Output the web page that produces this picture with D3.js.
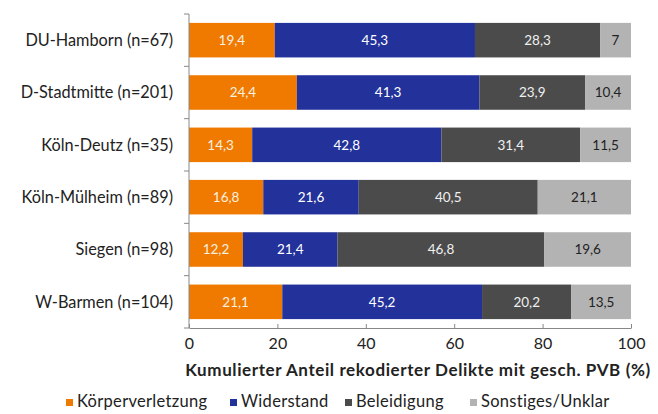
<!DOCTYPE html>
<html>
<head>
<meta charset="utf-8">
<script src="https://cdn.jsdelivr.net/npm/d3@7"></script>
<style>
  body { margin: 0; background: #fff; }
  svg { font-family: Lato, "Open Sans", sans-serif; }
</style>
</head>
<body>
<div id="chart"></div>
<script>
const categories = ["DU-Hamborn (n=67)", "D-Stadtmitte (n=201)", "Köln-Deutz (n=35)", "Köln-Mülheim (n=89)", "Siegen (n=98)", "W-Barmen (n=104)"];
const series = ["Körperverletzung", "Widerstand", "Beleidigung", "Sonstiges/Unklar"];
const koerperverletzung = [19.4, 24.4, 14.3, 16.8, 12.2, 21.1];
const widerstand = [45.3, 41.3, 42.8, 21.6, 21.4, 45.2];
const beleidigung = [28.3, 23.9, 31.4, 40.5, 46.8, 20.2];
const sonstiges = [7, 10.4, 11.5, 21.1, 19.6, 13.5];
const xTicks = [0, 20, 40, 60, 80, 100];

const colors = ["#f07a00", "#23329b", "#4b4b4b", "#b3b3b3"];
const textColors = ["#f5f0e0", "#ffffff", "#f0f0f0", "#222222"];

let w = 658;
let h = 414;
let marginLeft = 189;
let marginRight = 27;
let marginTop = 14;
let axisY = 328;

let dataset = categories.map(function (c, i) {
  return {
    name: c,
    "Körperverletzung": koerperverletzung[i],
    "Widerstand": widerstand[i],
    "Beleidigung": beleidigung[i],
    "Sonstiges/Unklar": sonstiges[i]
  };
});

let stacked = d3.stack().keys(series)(dataset);

let x = d3.scaleLinear().domain([0, 100]).range([marginLeft, w - marginRight]);
let y = d3.scaleBand().domain(categories).range([marginTop, axisY]).paddingInner(0.34).paddingOuter(0.17);

let svg = d3.select("#chart").append("svg").attr("width", w).attr("height", h);

// bars
let layer = svg.selectAll("g.layer")
  .data(stacked)
  .enter()
  .append("g")
  .attr("class", "layer")
  .attr("fill", function (d, i) { return colors[i]; });

layer.selectAll("rect")
  .data(function (d) { return d; })
  .enter()
  .append("rect")
  .attr("x", function (d) { return x(d[0]); })
  .attr("y", function (d) { return y(d.data.name); })
  .attr("width", function (d) { return x(d[1]) - x(d[0]); })
  .attr("height", y.bandwidth());

// value labels
stacked.forEach(function (s, si) {
  svg.append("g")
    .selectAll("text")
    .data(s)
    .enter()
    .append("text")
    .attr("x", function (d) { return (x(d[0]) + x(d[1])) / 2; })
    .attr("y", function (d) { return y(d.data.name) + y.bandwidth() / 2; })
    .attr("dy", "0.35em")
    .attr("text-anchor", "middle")
    .attr("font-size", 13.5)
    .attr("fill", textColors[si])
    .text(function (d) { return String(d.data[s.key]).replace(".", ","); });
});

// y axis
let yAxis = svg.append("g")
  .attr("transform", `translate(${marginLeft},0)`);
yAxis.append("line")
  .attr("y1", marginTop).attr("y2", axisY)
  .attr("stroke", "#888");
let bounds = categories.map(function (c) { return y(c) - y.step() * y.paddingInner() / 2; }).concat([axisY]);
yAxis.selectAll("line.tick")
  .data(bounds)
  .enter()
  .append("line")
  .attr("class", "tick")
  .attr("x1", -5).attr("x2", 0)
  .attr("y1", function (d) { return d; })
  .attr("y2", function (d) { return d; })
  .attr("stroke", "#888");
yAxis.selectAll("text")
  .data(categories)
  .enter()
  .append("text")
  .attr("x", -16)
  .attr("y", function (d) { return y(d) + y.bandwidth() / 2; })
  .attr("dy", "0.35em")
  .attr("text-anchor", "end")
  .attr("font-size", 16.3)
  .attr("fill", "#222")
  .text(function (d) { return d; });

// x axis
let xAxis = d3.axisBottom(x).tickValues(xTicks).tickSize(0).tickPadding(10);
let gx = svg.append("g")
  .attr("transform", `translate(0,${axisY})`)
  .call(xAxis);
gx.select(".domain").attr("stroke", "#888");
gx.selectAll(".tick text").attr("font-size", 16).attr("fill", "#222").attr("font-family", "Lato, sans-serif");
gx.selectAll(".tick").append("line").attr("y1", -4).attr("y2", 0).attr("stroke", "#888");

svg.append("text")
  .attr("x", 418)
  .attr("y", 376)
  .attr("text-anchor", "middle")
  .attr("font-size", 17)
  .attr("letter-spacing", 0.6)
  .attr("font-weight", "bold")
  .attr("fill", "#222")
  .text("Kumulierter Anteil rekodierter Delikte mit gesch. PVB (%)");

// legend
let legendX = [66, 230, 345, 470];
let legend = svg.append("g")
  .selectAll("g")
  .data(series)
  .enter()
  .append("g")
  .attr("transform", function (d, i) { return `translate(${legendX[i]},407)`; });
legend.append("rect")
  .attr("x", 0).attr("y", -8)
  .attr("width", 7).attr("height", 7)
  .attr("fill", function (d, i) { return colors[i]; });
legend.append("text")
  .attr("x", 11)
  .attr("y", 0)
  .attr("font-size", 16.5)
  .attr("letter-spacing", 0.3)
  .attr("fill", "#222")
  .text(function (d) { return d; });
</script>
</body>
</html>
